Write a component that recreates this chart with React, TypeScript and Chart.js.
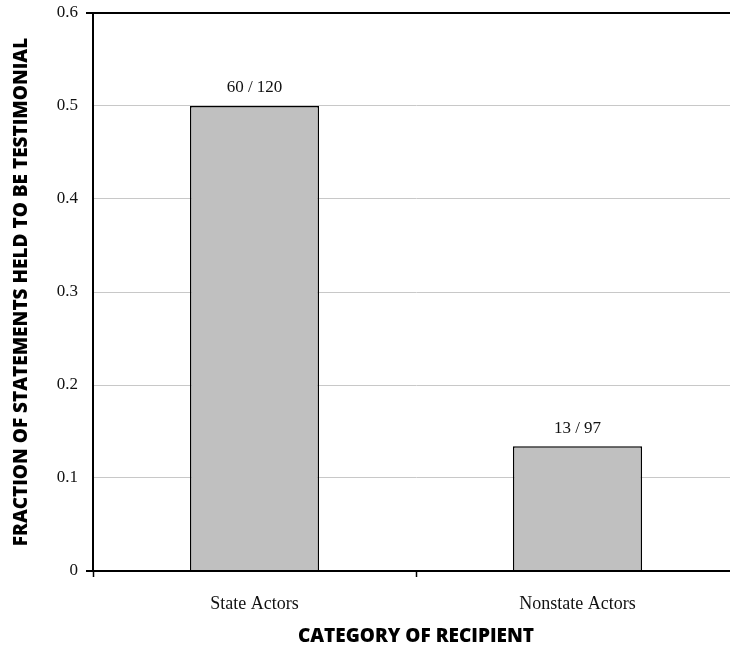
import React, { useEffect, useRef } from "react";
import { Chart, registerables } from "chart.js";

Chart.register(...registerables);

const categories = ["State Actors", "Nonstate Actors"];
const fractions = [60 / 120, 13 / 97];
const countLabels = ["60 / 120", "13 / 97"];
const yTicks = [0, 0.1, 0.2, 0.3, 0.4, 0.5, 0.6];

const SERIF = '"Liberation Serif", "DejaVu Serif", serif';
const SANS = '"Open Sans", "Noto Sans", sans-serif';

const barLabelPlugin = {
  id: "barLabels",
  afterDatasetsDraw(chart: any) {
    const ctx = chart.ctx;
    const meta = chart.getDatasetMeta(0);
    ctx.save();
    ctx.font = `17px ${SERIF}`;
    ctx.fillStyle = "#111";
    ctx.textAlign = "center";
    ctx.textBaseline = "middle";
    meta.data.forEach((bar: any, i: number) => {
      ctx.fillText(countLabels[i], bar.x, bar.y - 18);
    });
    ctx.restore();
  },
};

export default function App() {
  const ref = useRef<HTMLCanvasElement | null>(null);

  useEffect(() => {
    if (!ref.current) return;
    const chart = new Chart(ref.current, {
      type: "bar",
      data: {
        labels: categories,
        datasets: [
          {
            data: fractions,
            backgroundColor: "#c0c0c0",
            borderColor: "#000",
            borderWidth: 1.5,
            barPercentage: 0.4,
            categoryPercentage: 1.0,
          },
        ],
      },
      options: {
        animation: false,
        responsive: false,
        devicePixelRatio: 1,
        layout: { padding: { top: 13, right: 11, left: 0, bottom: 0 } },
        plugins: {
          legend: { display: false },
          tooltip: { enabled: false },
        },
        scales: {
          x: {
            offset: true,
            grid: {
              offset: true,
              drawOnChartArea: false,
              drawTicks: true,
              tickLength: 6,
              tickColor: "#000",
              tickWidth: 1.5,
            },
            border: { color: "#000", width: 2 },
            ticks: {
              color: "#111",
              font: { family: SERIF, size: 18 },
              padding: 16,
              maxRotation: 0,
            },
            title: {
              display: true,
              text: "CATEGORY OF RECIPIENT",
              color: "#000",
              font: { family: SANS, size: 19, weight: "800", lineHeight: 1 },
              padding: { top: 0, bottom: 0 },
            },
            afterFit: (scale: any) => {
              scale.height = 75;
              scale.paddingLeft = 0;
              scale.paddingRight = 0;
            },
          },
          y: {
            min: 0,
            max: 0.6,
            afterBuildTicks: (scale: any) => {
              scale.ticks = yTicks.map((v) => ({ value: v }));
            },
            grid: {
              color: (c: any) =>
                c.tick && (c.tick.value === 0.6 || c.tick.value === 0) ? "#000" : "#c8c8c8",
              lineWidth: (c: any) =>
                c.tick && (c.tick.value === 0.6 || c.tick.value === 0) ? 2 : 1,
              tickColor: (c: any) =>
                c.tick && (c.tick.value === 0.6 || c.tick.value === 0) ? "#000" : "rgba(0,0,0,0)",
              tickLength: 7,
              drawTicks: true,
            },
            border: { color: "#000", width: 2 },
            ticks: {
              color: "#111",
              font: { family: SERIF, size: 17 },
              padding: 8,
              callback: (v: any) => (v === 0 ? "0" : Number(v).toFixed(1)),
            },
            title: {
              display: true,
              text: "FRACTION OF STATEMENTS HELD TO BE TESTIMONIAL",
              color: "#000",
              font: { family: SANS, size: 19, weight: "800", lineHeight: 1 },
              padding: { top: 12, bottom: 0 },
            },
            afterFit: (scale: any) => {
              scale.width = 93;
              scale.paddingTop = 0;
              scale.paddingBottom = 0;
            },
          },
        },
      },
      plugins: [barLabelPlugin],
    });
    return () => chart.destroy();
  }, []);

  return (
    <div
      style={{
        position: "fixed",
        left: 0,
        top: 0,
        width: 730,
        height: 646,
        overflow: "hidden",
        background: "#fff",
      }}
    >
      <canvas ref={ref} width={750} height={646} style={{ display: "block" }} />
    </div>
  );
}
